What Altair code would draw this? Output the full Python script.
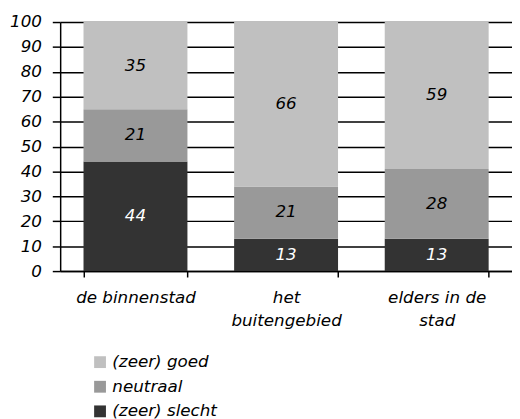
import altair as alt
import pandas as pd

categories = ["de binnenstad", "het buitengebied", "elders in de stad"]
levels = ["(zeer) slecht", "neutraal", "(zeer) goed"]
slecht = [44, 13, 13]
neutraal = [21, 21, 28]
goed = [35, 66, 59]
y_ticks = list(range(0, 101, 10))

rows = []
for i, c in enumerate(categories):
    for r, (lvl, vals) in enumerate(zip(levels, [slecht, neutraal, goed])):
        rows.append({"cat": c, "level": lvl, "value": vals[i], "rank": r})
df = pd.DataFrame(rows)

FONT = "DejaVu Sans"
legend_order = ["(zeer) goed", "neutraal", "(zeer) slecht"]
colors = ["#c0c0c0", "#999999", "#333333"]

label_expr = ("datum.label == 'het buitengebied' ? ['het', 'buitengebied'] : "
              "datum.label == 'elders in de stad' ? ['elders in de', 'stad'] : datum.label")

x_scale = alt.Scale(paddingInner=0.31, paddingOuter=0.155)
y_scale = alt.Scale(domain=[0, 100], nice=False)

x_axis = alt.Axis(labelAngle=0, labelExpr=label_expr, tickBand="extent",
                  tickSize=6, tickColor="black", domainColor="black",
                  labelPadding=13, labelLineHeight=23, labelFontSize=17,
                  labelFont=FONT, labelFontStyle="italic", labelColor="black")
y_axis = alt.Axis(values=y_ticks, grid=True, gridColor="black",
                  gridOpacity=1, tickSize=8, tickColor="black", domainColor="black",
                  labelPadding=11, labelFontSize=17, labelOverlap=False,
                  labelFont=FONT, labelFontStyle="italic", labelColor="black")

bars = alt.Chart(df).mark_bar().encode(
    x=alt.X("cat:N", sort=categories, title=None, scale=x_scale, axis=x_axis),
    y=alt.Y("value:Q", stack="zero", title=None, scale=y_scale, axis=y_axis),
    color=alt.Color("level:N", scale=alt.Scale(domain=legend_order, range=colors),
                    legend=alt.Legend(title=None, orient="none", legendX=32, legendY=337,
                                      symbolType="square", symbolSize=144,
                                      symbolStrokeWidth=0, labelFontSize=17,
                                      labelFont=FONT, labelFontStyle="italic",
                                      labelColor="black", rowPadding=7, padding=0)),
    order=alt.Order("rank:Q", sort="ascending"),
)

texts = alt.Chart(df).transform_stack(
    stack="value", groupby=["cat"], sort=[alt.SortField("rank", order="ascending")],
    as_=["y0", "y1"]
).transform_calculate(
    mid="(datum.y0 + datum.y1) / 2"
).mark_text(font=FONT, fontSize=17, fontStyle="italic").encode(
    x=alt.X("cat:N", sort=categories, title=None, scale=x_scale, axis=x_axis),
    y=alt.Y("mid:Q", title=None, scale=y_scale, axis=y_axis),
    text=alt.Text("value:Q"),
    color=alt.condition(alt.datum.level == "(zeer) slecht", alt.value("white"), alt.value("black")),
)

chart = alt.layer(bars, texts).properties(
    width=459, height=253,
    autosize=alt.AutoSizeParams(type="none"),
    padding={"left": 53, "top": 11, "right": 0, "bottom": 147},
).configure_axis(
    domainWidth=1.5, gridWidth=1.5, tickWidth=1.5,
    labelFont=FONT, labelFontStyle="italic",
).configure_view(stroke=None)

chart.save("out.html", embed_options={"renderer": "svg", "actions": False})
